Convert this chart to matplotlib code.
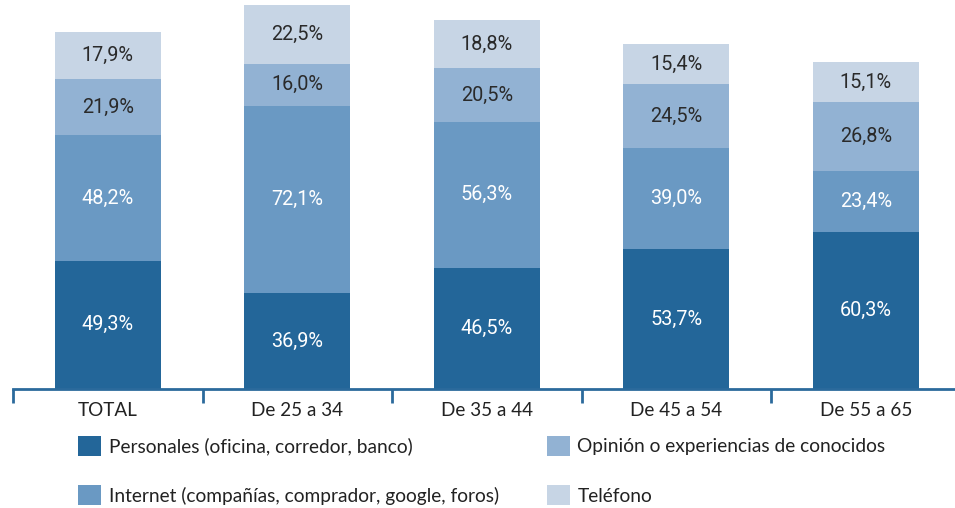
import matplotlib.pyplot as plt
import numpy as np

plt.rcParams['font.family'] = ['Roboto', 'DejaVu Sans']

categories = ['TOTAL', 'De 25 a 34', 'De 35 a 44', 'De 45 a 54', 'De 55 a 65']
series_names = ['Personales (oficina, corredor, banco)',
                'Internet (compañías, comprador, google, foros)',
                'Opinión o experiencias de conocidos',
                'Teléfono']
personales = [49.3, 36.9, 46.5, 53.7, 60.3]
internet = [48.2, 72.1, 56.3, 39.0, 23.4]
opinion = [21.9, 16.0, 20.5, 24.5, 26.8]
telefono = [17.9, 22.5, 18.8, 15.4, 15.1]

colors = ['#236699', '#6a99c3', '#92b2d3', '#c7d5e5']
text_colors = ['white', 'white', '#2a2a2a', '#2a2a2a']
axis_color = '#2b6a9c'
label_font = ['Lato', 'DejaVu Sans']

fig = plt.figure(figsize=(9.55, 5.08), dpi=100)
ax = fig.add_axes([13 / 955, 1 - 389 / 508, 947.5 / 955, 389 / 508])

x = np.arange(len(categories))
bottom = np.zeros(len(categories))
handles = []
for vals, name, c, tc in zip([personales, internet, opinion, telefono],
                             series_names, colors, text_colors):
    vals = np.array(vals)
    b = ax.bar(x, vals, 0.56, bottom=bottom, color=c, label=name, linewidth=0)
    handles.append(b)
    for xi, v, bo in zip(x, vals, bottom):
        ax.text(xi, bo + v / 2, f'{v:.1f}%'.replace('.', ','), ha='center',
                va='center', color=tc, fontsize=14.3)
    bottom += vals

ax.set_xlim(-0.5, 4.5)
ax.set_ylim(0, 149.6)
ax.set_yticks([])
for s in ['top', 'left', 'right']:
    ax.spines[s].set_visible(False)
ax.spines['bottom'].set_color(axis_color)
ax.spines['bottom'].set_linewidth(2)

ax.set_xticks(np.arange(-0.5, 5, 1))
ax.set_xticklabels([])
ax.tick_params(axis='x', which='major', length=10, width=2, color=axis_color,
               direction='out')
ax.set_xticks(x, minor=True)
ax.set_xticklabels(categories, minor=True, fontsize=13.6, color='#222222',
                   family=label_font)
ax.tick_params(axis='x', which='minor', length=0, pad=9)

fig.legend(handles=handles, loc='upper left', ncol=2, frameon=False,
           bbox_to_anchor=(78 / 955, 1 - 436 / 508), borderaxespad=0,
           borderpad=0, handlelength=1.2, handleheight=1.2, handletextpad=0.4,
           labelspacing=1.55, columnspacing=2.5,
           prop={'family': label_font, 'size': 13.8},
           labelcolor='#222222')

fig.savefig('out.png', dpi=100)
